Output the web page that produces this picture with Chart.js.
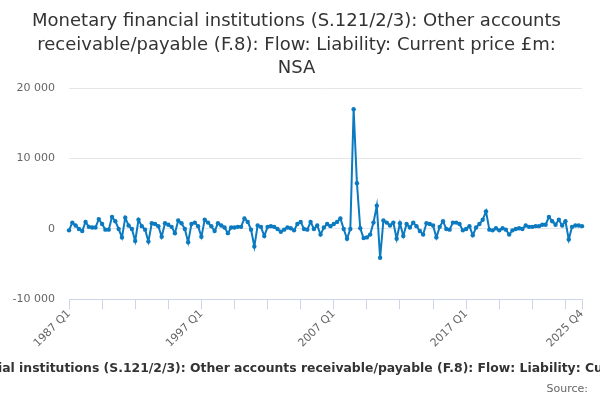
<!DOCTYPE html>
<html>
<head>
<meta charset="utf-8">
<script src="https://cdn.jsdelivr.net/npm/chart.js@4/dist/chart.umd.min.js"></script>
<style>
    html, body { margin: 0; padding: 0; background: #fff; }
    #wrap { width: 600px; height: 400px; }
</style>
</head>
<body>
<div id="wrap"><canvas id="mfiChart"></canvas></div>
<script>
const seriesName = "Monetary financial institutions (S.121/2/3): Other accounts receivable/payable (F.8): Flow: Liability: Current price £m: NSA";
const titleLines = [
    "Monetary financial institutions (S.121/2/3): Other accounts",
    "receivable/payable (F.8): Flow: Liability: Current price £m:",
    "NSA"
];
const firstYear = 1987;
const lastYear = 2025;
const quarterNames = ["Q1", "Q2", "Q3", "Q4"];

// £m, 1987 Q1 .. 2025 Q4
const flowValues = [
    -200, 900, 500, 0, -300, 1000, 300, 200, 200, 1400,
    700, -100, -100, 1700, 1100, 0, -1200, 1600, 500, 0,
    -1700, 1300, 400, -100, -1800, 800, 700, 400, -1100, 800,
    600, 300, -600, 1200, 800, 0, -1900, 700, 900, 400,
    -1100, 1300, 900, 400, -300, 800, 500, 200, -600, 200,
    200, 300, 300, 1500, 1000, -100, -2500, 500, 300, -1000,
    300, 400, 300, 0, -400, -100, 200, 100, -200, 700,
    1000, 0, -100, 1000, 0, 500, -800, 200, 700, 400,
    700, 1000, 1500, 0, -1400, 0, 17000, 6500, 100, -1300,
    -1200, -800, 900, 3300, -4100, 1200, 900, 500, 900, -1400,
    800, -1000, 700, 200, 900, 400, -300, -800, 800, 700,
    500, -1200, 300, 1100, 0, -100, 900, 900, 700, -200,
    0, 400, -900, 200, 700, 1300, 2500, -100, -200, 100,
    -200, 100, -100, -800, -200, 0, 100, 0, 500, 300,
    300, 400, 400, 600, 600, 1700, 1100, 600, 1300, 500,
    1100, -1500, 300, 500, 500, 400
];
const yTicks = [-10000, 0, 10000, 20000];

const quarterLabels = [];
for (let y = firstYear; y <= lastYear; y++) {
    quarterNames.forEach(q => quarterLabels.push(y + " " + q));
}
const lastIndex = quarterLabels.length - 1;

const lineColor = "#0b7ac0";
const fontFamily = "'DejaVu Sans', sans-serif";

// legend text + source line under the chart, clipped by the canvas like the original
const footerText = {
    id: "footerText",
    afterDraw(chart) {
        const ctx = chart.ctx;
        ctx.save();
        ctx.fillStyle = "#333333";
        ctx.font = "bold 12.4px " + fontFamily;
        ctx.textAlign = "center";
        ctx.textBaseline = "middle";
        ctx.fillText(seriesName, 313, 369);
        ctx.fillStyle = "#666666";
        ctx.font = "11px " + fontFamily;
        ctx.textAlign = "right";
        ctx.fillText("Source:", 588, 389);
        ctx.restore();
    }
};

const ctx = document.getElementById("mfiChart").getContext("2d");
new Chart(ctx, {
    type: "line",
    data: {
        labels: quarterLabels,
        datasets: [{
            label: seriesName,
            data: flowValues,
            borderColor: lineColor,
            backgroundColor: lineColor,
            borderWidth: 2,
            pointRadius: 2.2,
            pointBorderWidth: 0,
            tension: 0,
            fill: false
        }]
    },
    options: {
        responsive: true,
        maintainAspectRatio: false,
        animation: false,
        layout: {
            padding: { left: 11, right: 18, top: 2, bottom: 52 }
        },
        plugins: {
            legend: { display: false },
            tooltip: { enabled: false },
            title: {
                display: true,
                text: titleLines,
                color: "#333333",
                font: { family: fontFamily, size: 18, weight: "normal", lineHeight: 1.3 },
                padding: { top: 8, bottom: 8 }
            }
        },
        scales: {
            x: {
                type: "category",
                offset: false,
                afterBuildTicks(scale) {
                    scale.ticks = scale.ticks.filter(t => t.value % 10 === 0 || t.value === lastIndex);
                },
                ticks: {
                    autoSkip: false,
                    minRotation: 45,
                    maxRotation: 45,
                    color: "#666666",
                    font: { family: fontFamily, size: 11 },
                    padding: -2,
                    callback(value) {
                        if (value % 40 === 0 || value === lastIndex) return this.getLabelForValue(value);
                        return "";
                    }
                },
                grid: {
                    drawOnChartArea: false,
                    drawTicks: true,
                    tickLength: 10,
                    color: "#ccd6eb"
                },
                border: { color: "#ccd6eb", width: 1 }
            },
            y: {
                min: -10000,
                max: 20000,
                afterBuildTicks(scale) {
                    scale.ticks = yTicks.map(v => ({ value: v }));
                },
                afterFit(scale) {
                    scale.width = 58;
                },
                ticks: {
                    color: "#666666",
                    font: { family: fontFamily, size: 11 },
                    padding: 14,
                    callback: v => v.toString().replace(/\B(?=(\d{3})+(?!\d))/g, " ")
                },
                grid: {
                    color: "#e6e6e6",
                    drawTicks: false
                },
                border: { display: false }
            }
        }
    },
    plugins: [footerText]
});
</script>
</body>
</html>
